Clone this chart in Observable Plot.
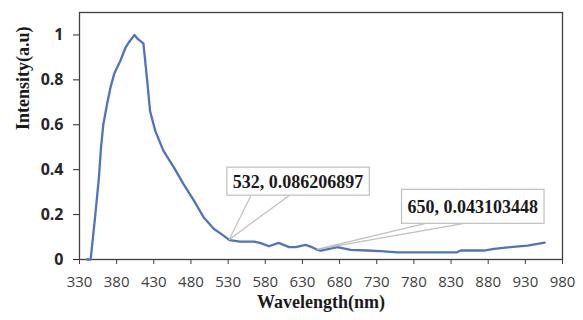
<!DOCTYPE html>
<html><head><meta charset="utf-8">
<script src="https://cdn.jsdelivr.net/npm/d3@7"></script>
<script src="https://cdn.jsdelivr.net/npm/@observablehq/plot@0.6"></script>
<style>body{margin:0;background:#fff}</style>
</head><body><div id="chart"></div>
<script>
const wavelength = [340, 345, 351, 356, 359, 362, 367, 372, 377, 385, 392, 397, 404, 409, 413, 416, 421, 425, 432, 443, 457, 470, 484, 497, 511, 522, 532, 546, 565, 574, 585, 598, 612, 621, 634, 643, 650, 655, 666, 677, 695, 717, 735, 758, 775, 838, 843, 874, 888, 910, 933, 956];
const intensity = [0, 0, 0.19, 0.36, 0.5, 0.6, 0.69, 0.77, 0.83, 0.885, 0.944, 0.97, 1.0, 0.98, 0.97, 0.962, 0.80, 0.66, 0.573, 0.484, 0.41, 0.336, 0.262, 0.188, 0.136, 0.111, 0.086206897, 0.08, 0.08, 0.073, 0.059, 0.074, 0.055, 0.055, 0.065, 0.055, 0.043103448, 0.04, 0.047, 0.055, 0.043, 0.04, 0.037, 0.032, 0.032, 0.032, 0.04, 0.04, 0.047, 0.055, 0.062, 0.075];
const xTicks = [330, 380, 430, 480, 530, 580, 630, 680, 730, 780, 830, 880, 930, 980];
const yTicks = [0, 0.2, 0.4, 0.6, 0.8, 1];
const calloutWavelength = [532, 650];
const calloutIntensity = [0.086206897, 0.043103448];
const xLabel = "Wavelength(nm)";
const yLabel = "Intensity(a.u)";

const data = wavelength.map((w, i) => ({w, v: intensity[i]}));
const callouts = calloutWavelength.map((w, i) => ({w, v: calloutIntensity[i], label: `${w}, ${calloutIntensity[i]}`}));
const calloutStyle = [{dx: 69, dy: -58.5, h: 28}, {dx: 156, dy: -43, h: 34}];
const calloutFont = "bold 18px 'Liberation Serif'";

function calloutMark(index, scales) {
  const ctx = document.createElement("canvas").getContext("2d");
  ctx.font = calloutFont;
  const g = d3.create("svg:g");
  callouts.forEach((c, i) => {
    const px = scales.x(c.w), py = scales.y(c.v);
    const s = calloutStyle[i];
    const tw = ctx.measureText(c.label).width;
    const bw = tw + 12, bh = s.h;
    const cx = px + s.dx, cy = py + s.dy;
    const x0 = cx - bw / 2, y0 = cy - bh / 2, y1 = cy + bh / 2;
    const wa = x0 + bw * 0.17, wb = x0 + bw * 0.44;
    g.append("path")
      .attr("d", `M${wa},${y1}L${px},${py}L${wb},${y1}`)
      .attr("fill", "none").attr("stroke", "#bfbfbf").attr("stroke-width", 1.2);
    g.append("rect")
      .attr("x", x0).attr("y", y0).attr("width", bw).attr("height", bh)
      .attr("fill", "white").attr("stroke", "#bfbfbf").attr("stroke-width", 1.2);
    g.append("text")
      .attr("x", cx).attr("y", cy + 1)
      .attr("text-anchor", "middle").attr("dominant-baseline", "central")
      .style("font", calloutFont).attr("fill", "#1a1a1a")
      .text(c.label);
  });
  return g.node();
}

const chart = Plot.plot({
  width: 583,
  height: 320,
  marginLeft: 79,
  marginRight: 21,
  marginTop: 12,
  marginBottom: 61,
  style: {fontFamily: "'Open Sans'", fontSize: "15px", background: "white", overflow: "visible"},
  x: {domain: [330, 980]},
  y: {domain: [0, 1.1]},
  marks: [
    Plot.axisX({ticks: xTicks, tickSize: 5, tickPadding: 12, fontSize: 15, label: null, color: "#404040", tickFormat: d => String(d)}),
    Plot.axisY({ticks: yTicks, tickSize: 6, tickPadding: 10, fontSize: 16, fontWeight: "bold", label: null, color: "#262626", tickFormat: d => String(d)}),
    Plot.frame({stroke: "#404040", strokeWidth: 1.3}),
    Plot.line(data, {x: "w", y: "v", stroke: "#4f74bb", strokeWidth: 2.3, curve: "linear"}),
    calloutMark,
    Plot.text([xLabel], {text: d => d, frameAnchor: "bottom", dy: 48, fontSize: 18, fontWeight: "bold", fontFamily: "'Liberation Serif'", fill: "#1a1a1a"}),
    Plot.text([yLabel], {text: d => d, frameAnchor: "left", rotate: -90, dx: -56, dy: -6, fontSize: 18, fontWeight: "bold", fontFamily: "'Liberation Serif'", fill: "#1a1a1a"})
  ]
});
document.getElementById("chart").appendChild(chart);
</script>
</body></html>
